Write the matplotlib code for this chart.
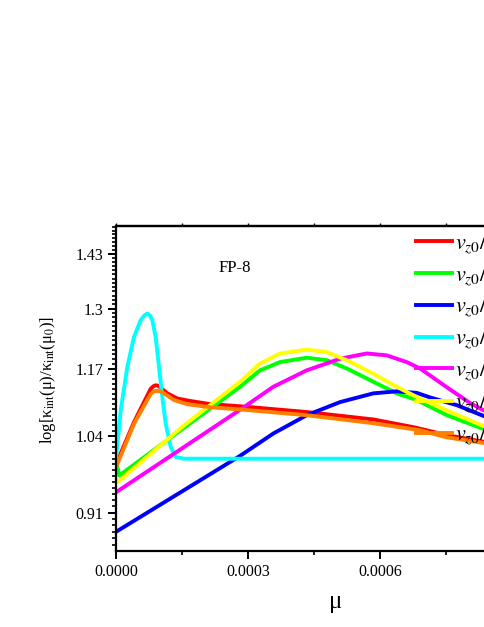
import numpy as np
import matplotlib.pyplot as plt
from matplotlib.ticker import FixedLocator, MultipleLocator, FormatStrFormatter, NullFormatter

plt.rcParams['font.family'] = ['Liberation Serif', 'DejaVu Serif']
plt.rcParams['mathtext.fontset'] = 'stix'

# data
mu_red = [0, 4.09e-5, 7.89e-5, 8.5e-5, 9.02e-5, 9.6e-5, 1.016e-4, 1.166e-4, 1.393e-4, 1.698e-4,
          2.152e-4, 2.818e-4, 4.334e-4, 5.848e-4, 6.8e-4, 7.52e-4, 8.43e-4, 1.0e-3]
val_red = [0.990, 1.066, 1.130, 1.135, 1.137, 1.136, 1.132, 1.121, 1.111, 1.106,
           1.100, 1.096, 1.085, 1.071, 1.056, 1.042, 1.029, 1.005]

mu_orange = [0, 4.09e-5, 7.89e-5, 8.6e-5, 9.25e-5, 1.0e-4, 1.091e-4, 1.318e-4, 1.620e-4, 2.152e-4,
             2.818e-4, 4.334e-4, 5.848e-4, 6.909e-4, 7.52e-4, 8.43e-4, 1.0e-3]
val_orange = [0.985, 1.063, 1.120, 1.125, 1.126, 1.125, 1.121, 1.108, 1.100, 1.094,
              1.090, 1.079, 1.064, 1.051, 1.038, 1.027, 1.0]

mu_green = [0, 7.3e-6, 1.47e-4, 2.82e-4, 3.273e-4, 3.727e-4, 4.334e-4, 4.789e-4, 5.243e-4,
            5.848e-4, 6.38e-4, 6.834e-4, 7.52e-4, 8.43e-4, 1.0e-3]
val_green = [0.997, 0.971, 1.051, 1.134, 1.167, 1.184, 1.193, 1.188, 1.171,
             1.144, 1.121, 1.108, 1.079, 1.051, 1.01]

mu_yellow = [0, 3.8e-6, 1.47e-4, 2.82e-4, 3.273e-4, 3.727e-4, 4.334e-4, 4.789e-4, 5.243e-4,
             5.848e-4, 6.38e-4, 6.834e-4, 7.52e-4, 8.43e-4, 1.0e-3]
val_yellow = [0.965, 0.960, 1.055, 1.144, 1.181, 1.202, 1.210, 1.205, 1.188,
              1.160, 1.134, 1.114, 1.088, 1.056, 1.01]

mu_magenta = [0, 2.85e-4, 3.575e-4, 4.334e-4, 5.091e-4, 5.698e-4, 6.152e-4, 6.607e-4, 6.909e-4,
              7.52e-4, 8.05e-4, 8.43e-4, 1.0e-3]
val_magenta = [0.943, 1.091, 1.134, 1.167, 1.191, 1.202, 1.198, 1.184, 1.171,
               1.133, 1.102, 1.085, 1.02]

mu_blue = [0, 2.82e-4, 3.575e-4, 4.334e-4, 5.091e-4, 5.848e-4, 6.38e-4, 6.834e-4, 7.14e-4,
           7.75e-4, 8.43e-4, 1.0e-3]
val_blue = [0.880, 1.005, 1.045, 1.079, 1.104, 1.121, 1.125, 1.122, 1.113,
            1.098, 1.075, 1.024]

mu_cyan = [0, 1.07e-5, 2.57e-5, 4.09e-5, 5.61e-5, 6.4e-5, 7.11e-5, 7.7e-5, 8.25e-5, 9.02e-5,
           9.77e-5, 1.052e-4, 1.13e-4, 1.243e-4, 1.357e-4, 1.545e-4, 1.0e-3]
val_cyan = [1.0, 1.088, 1.174, 1.237, 1.274, 1.284, 1.289, 1.285, 1.274, 1.237,
            1.174, 1.114, 1.063, 1.021, 1.003, 1.000, 1.000]

labels = [r'$v_{z0}/v_{F}=0.1$', r'$v_{z0}/v_{F}=0.2$', r'$v_{z0}/v_{F}=0.3$',
          r'$v_{z0}/v_{F}=0.4$', r'$v_{z0}/v_{F}=0.5$', r'$v_{z0}/v_{F}=0.6$',
          r'$v_{z0}/v_{F}=0.7$']
yticks = [0.91, 1.04, 1.17, 1.3, 1.43]
ytick_labels = ['0.91', '1.04', '1.17', '1.3', '1.43']

series = [(mu_red, val_red, '#ff0000'),
          (mu_green, val_green, '#00ff00'),
          (mu_blue, val_blue, '#0000ff'),
          (mu_cyan, val_cyan, '#00ffff'),
          (mu_magenta, val_magenta, '#ff00ff'),
          (mu_yellow, val_yellow, '#ffff00'),
          (mu_orange, val_orange, '#ff8000')]

fig = plt.figure(figsize=(4.85, 6.27), dpi=100)
# axes run past the right edge of the picture, as in the reference
ax = fig.add_axes([116/485, 76/627, 440/485, 325/627])

for (m, v, c), lab in zip(series, labels):
    ax.plot(m, v, color=c, lw=2.8, label=lab, solid_joinstyle='round')

ax.set_yscale('log')
ax.set_xlim(0, 0.001)
ax.set_ylim(0.851, 1.502)

ax.yaxis.set_major_locator(FixedLocator(yticks))
ax.set_yticklabels(ytick_labels)
ax.yaxis.set_minor_locator(MultipleLocator(0.01))
ax.yaxis.set_minor_formatter(NullFormatter())

ax.xaxis.set_major_locator(MultipleLocator(0.0003))
ax.xaxis.set_minor_locator(MultipleLocator(0.00015))
ax.xaxis.set_major_formatter(FormatStrFormatter('%.4f'))

for s in ax.spines.values():
    s.set_linewidth(1.6)
ax.tick_params(axis='both', which='major', direction='out', length=6, width=1.4,
               labelsize=11.5, pad=3)
ax.tick_params(axis='both', which='minor', direction='out', length=3, width=1.2)

# small ticks on the top edge
top = ax.secondary_xaxis('top')
top.xaxis.set_major_locator(MultipleLocator(0.00015))
top.tick_params(direction='out', length=2, width=1.0, labeltop=False)
top.spines['top'].set_linewidth(1.6)

ax.set_xlabel('μ', fontsize=18, labelpad=8)
ax.set_ylabel('log[κ$_{\\rm int}$(μ)/κ$_{\\rm int}$(μ$_0$)]', fontsize=12)
ax.yaxis.set_label_coords(-0.132, 0.527)

ax.text(2.32e-4, 1.395, 'FP-8', fontsize=12, ha='left', va='center')

ax.legend(loc='upper left', bbox_to_anchor=(416/485, 1 - 232/627),
          bbox_transform=fig.transFigure, frameon=False, fontsize=16,
          handlelength=1.6, handletextpad=0.15, labelspacing=0.35,
          borderpad=0, borderaxespad=0)

fig.savefig('out.png', dpi=100)
